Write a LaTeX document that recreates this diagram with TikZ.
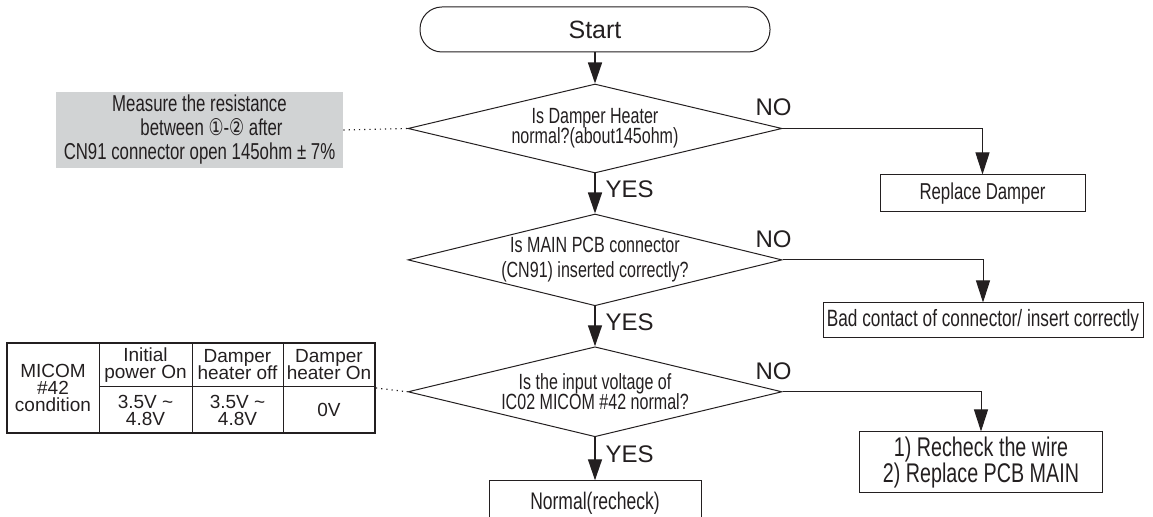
\documentclass[tikz,border=0pt]{standalone}
\usepackage{fontspec}
\setmainfont{Liberation Sans}
\newfontfamily\narrowfont[FakeStretch=0.73]{Liberation Sans}
\newfontfamily\circfont[FakeStretch=0.73]{DejaVu Sans}
\usetikzlibrary{arrows.meta, shapes.geometric, positioning}
\definecolor{InkBlack}{HTML}{231F20}
\definecolor{NoteGray}{HTML}{D1D3D4}
\setlength{\lineskiplimit}{-10pt}

\begin{document}
\begin{tikzpicture}[
  x=0.5pt, y=-0.5pt,
  node distance=20pt,
  every node/.style={text=InkBlack},
  terminal/.style={draw=InkBlack, line width=0.5pt, rounded corners=11pt,
               minimum width=175pt, minimum height=22.5pt, inner sep=0pt,
               font=\fontsize{12.5}{14}\selectfont},
  decision/.style={draw=InkBlack, line width=0.5pt, diamond, aspect=4,
               inner sep=0pt, minimum width=187pt, minimum height=44.5pt,
               align=center, font=\fontsize{11}{10}\narrowfont},
  action/.style={draw=InkBlack, line width=0.5pt, inner sep=0pt,
               align=center, font=\fontsize{11.5}{13}\narrowfont},
  remark/.style={fill=NoteGray, inner sep=0pt, minimum width=143.5pt,
               minimum height=38pt, align=center,
               font=\fontsize{11.5}{12}\narrowfont},
  cell/.style={inner sep=0pt, align=center,
               font=\fontsize{9.5}{8.5}\selectfont},
  answer/.style={inner sep=0pt, font=\fontsize{12}{14}\selectfont},
  yeslbl/.style={answer, pos=0.4, right=5pt},
  arr/.style={-{Triangle[length=10.5pt, width=7pt]}, line width=0.7pt,
              draw=InkBlack},
  noarr/.style={-{Triangle[length=11pt, width=7pt]}, line width=0.5pt,
              draw=InkBlack},
  leader/.style={dotted, line width=0.6pt, draw=InkBlack},
]
  \useasboundingbox (0,0) rectangle (1153,517);

  % main chain
  \node[terminal] (start) at (595,29.5) {Start};
  \node[decision, below=15.5pt of start] (dec1)
    {Is Damper Heater\\normal?(about145ohm)};
  \node[decision, below=of dec1, minimum height=44pt,
        font=\fontsize{11}{12.5}\narrowfont] (dec2)
    {Is MAIN PCB connector\\(CN91) inserted correctly?};
  \node[decision, below=of dec2, minimum height=45pt] (dec3)
    {Is the input voltage of\\IC02 MICOM \#42 normal?};
  \node[action, below=21.5pt of dec3, minimum width=106pt, minimum height=23pt,
        font=\fontsize{12}{14}\narrowfont] (norm) {Normal(recheck)};

  % NO branch boxes
  \node[action, minimum width=102.5pt, minimum height=18.5pt] (repl)
    at (982.5,193.5) {Replace Damper};
  \node[action, minimum width=160pt, minimum height=17.5pt,
        font=\fontsize{11.8}{13}\narrowfont] (badc)
    at (983,320.5) {Bad contact of connector/ insert correctly};
  \node[action, minimum width=121.5pt, minimum height=30.5pt,
        font=\fontsize{13.5}{13}\narrowfont] (rchk)
    at (981,462.5) {1) Recheck the wire\\2) Replace PCB MAIN};

  \draw[arr] (start) -- (dec1);
  \foreach \a/\b/\y in {dec1/dec2/yes1, dec2/dec3/yes2, dec3/norm/yes3}
    \draw[arr] (\a) -- node[yeslbl] (\y) {YES} (\b);

  \foreach \d/\b/\n in {dec1/repl/no1, dec2/badc/no2, dec3/rchk/no3} {
    \draw[noarr] (\d.east) -| (\b.north);
    \node[answer] (\n) at ([shift={(-9,-21)}]\d.east) {NO};
  }

  % measuring note
  \node[remark] (note) at (199.5,130)
    {Measure the resistance\\
     \hspace*{12pt}between {\circfont ①}-{\circfont ②} after\\
     CN91 connector open 145ohm ± 7\%};
  \draw[leader] (note.east) -- (dec1.west);

  % voltage table
  \node[draw=InkBlack, line width=1pt, minimum width=184pt,
        minimum height=45pt, inner sep=0pt] (tbl) at (191,388) {};
  \foreach \cx in {99,192,283}
    \draw[line width=0.5pt, InkBlack] (\cx,343) -- (\cx,433);
  \draw[line width=0.5pt, InkBlack] (99,387) -- (375,387);
  \node[cell] (micom) at (53,388) {MICOM\\\#42\\condition};
  \node[cell] (hd1) at (145.5,365) {Initial\\power On};
  \node[cell] (hd2) at (237.5,365) {Damper\\heater off};
  \node[cell] (hd3) at (329,365) {Damper\\heater On};
  \node[cell] (v1) at (145.5,410) {3.5V \textasciitilde\\4.8V};
  \node[cell] (v2) at (237.5,410) {3.5V \textasciitilde\\4.8V};
  \node[cell] (v3) at (329,410) {0V};
  \draw[leader] (tbl.east) -- (dec3.west);
\end{tikzpicture}
\end{document}
